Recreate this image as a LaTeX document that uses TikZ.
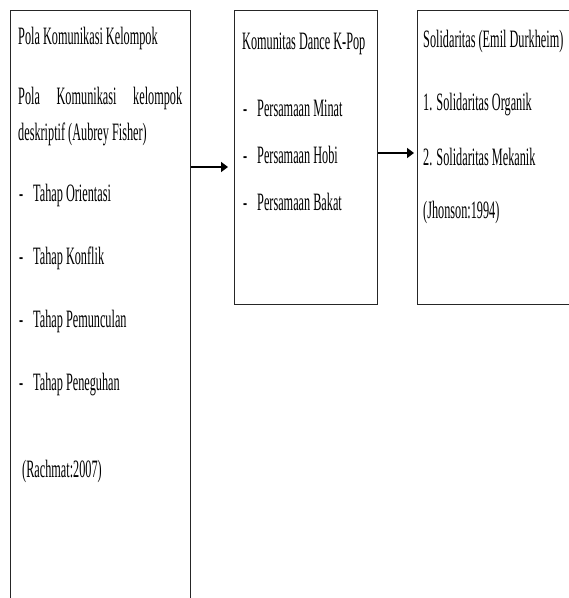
\documentclass[tikz,border=0pt]{standalone}
\usepackage{fontspec}
\setmainfont{Liberation Serif}[FakeStretch=0.49]
\usetikzlibrary{arrows.meta}

\begin{document}
\begin{tikzpicture}[x=1pt,y=-1pt]
			\tikzstyle{every node}+=[inner sep=0pt, font=\fontsize{25}{29}\selectfont]
			\tikzstyle{box}=[draw=black!85, line width=1.1pt, anchor=north west]
			\tikzstyle{txt}=[anchor=base west]
			\tikzstyle{arr}=[black, line width=1.8pt, -{Triangle[length=7pt,width=10pt]}]
			\useasboundingbox (0,0) rectangle (569,598);
			% boxes
			\node [box, minimum width=180pt, minimum height=620pt] (pola) at (10,10) {};
			\node [box, minimum width=143pt, minimum height=294pt] (kpop) at (234,10) {};
			\node [box, minimum width=200pt, minimum height=294pt] (soli) at (417,10) {};
			% left box
			\node [txt] (p1) at (18,44) {Pola Komunikasi Kelompok};
			\node [txt] (p2) at (18,104) {\makebox[164pt][s]{Pola Komunikasi kelompok}};
			\node [txt] (p3) at (18,140) {deskriptif (Aubrey Fisher)};
			\node [txt] (d1) at (19,201) {-};
			\node [txt] (t1) at (33,201) {Tahap Orientasi};
			\node [txt] (d2) at (19,264) {-};
			\node [txt] (t2) at (33,264) {Tahap Konflik};
			\node [txt] (d3) at (19,327) {-};
			\node [txt] (t3) at (33,327) {Tahap Pemunculan};
			\node [txt] (d4) at (19,390) {-};
			\node [txt] (t4) at (33,390) {Tahap Peneguhan};
			\node [txt] (r1) at (22,477) {(Rachmat:2007)};
			% middle box
			\node [txt] (k1) at (242,49) {Komunitas Dance K-Pop};
			\node [txt] (e1) at (243,116) {-};
			\node [txt] (m1) at (257,116) {Persamaan Minat};
			\node [txt] (e2) at (243,163) {-};
			\node [txt] (m2) at (257,163) {Persamaan Hobi};
			\node [txt] (e3) at (243,210) {-};
			\node [txt] (m3) at (257,210) {Persamaan Bakat};
			% right box
			\node [txt] (s1) at (423,47) {Solidaritas (Emil Durkheim)};
			\node [txt] (s2) at (423,110) {1. Solidaritas Organik};
			\node [txt] (s3) at (423,165) {2. Solidaritas Mekanik};
			\node [txt] (s4) at (423,218) {(Jhonson:1994)};
			% arrows
			\coordinate (a1) at (228,167);
			\coordinate (a2) at (414,153);
			\draw [arr] (a1 -| pola.east) -- (a1);
			\draw [arr] (a2 -| kpop.east) -- (a2);
		\end{tikzpicture}
\end{document}
